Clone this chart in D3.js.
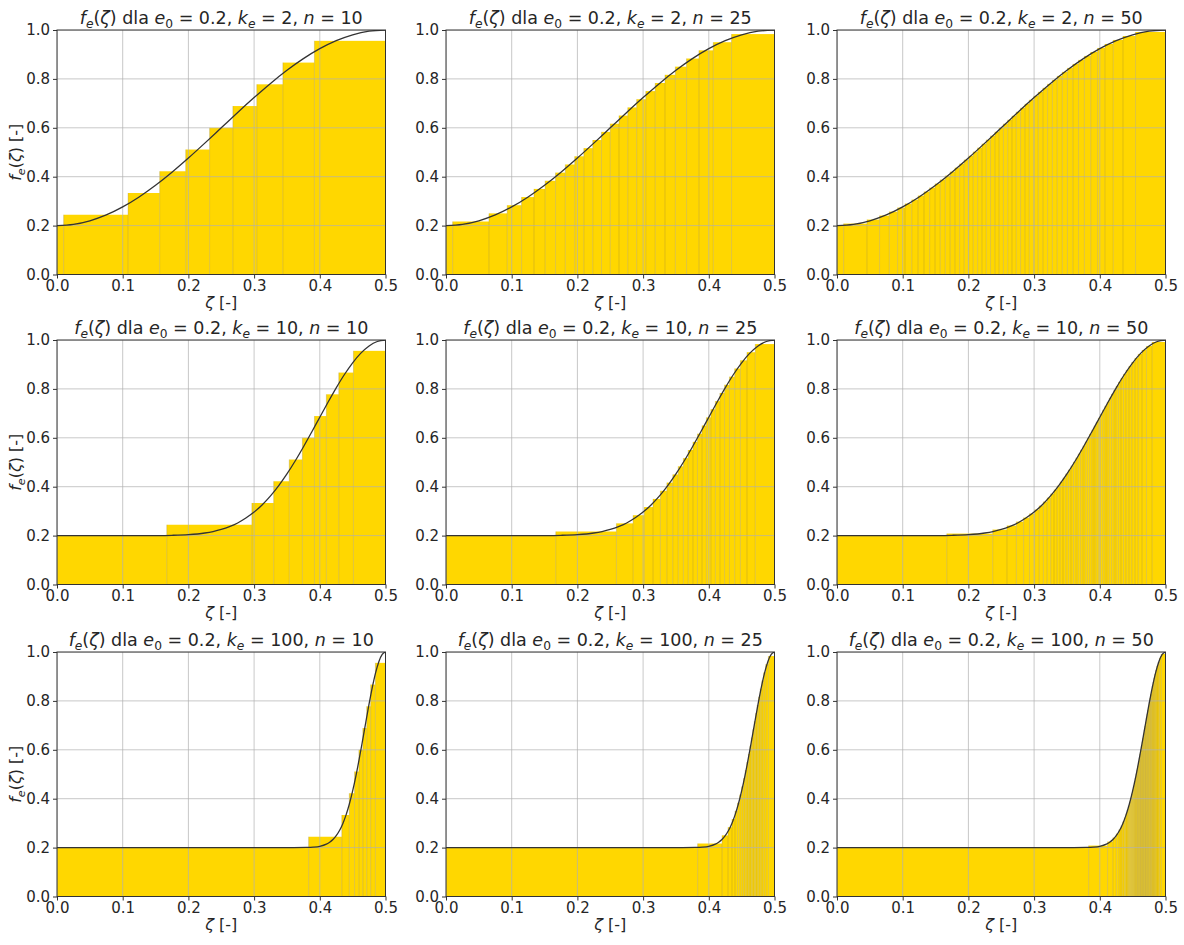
<!DOCTYPE html>
<html>
<head>
<meta charset="utf-8">
<script src="https://cdn.jsdelivr.net/npm/d3@7"></script>
<style>
  body { margin: 0; background: #fff; }
  svg { display: block; }
  text { font-family: "DejaVu Sans", sans-serif; fill: #262626; }
</style>
</head>
<body>
<svg id="chart" width="1184" height="945"></svg>
<script>
// ---- tick labels ----
const zetaTicks = [0, 0.1, 0.2, 0.3, 0.4, 0.5];
const fTicks = [0, 0.2, 0.4, 0.6, 0.8, 1.0];

// ---- parameters shown in the panel titles ----
const e0Label = "0.2";
const kValues = [2, 10, 100];   // rows
const nValues = [10, 25, 50];   // columns

// ---- step heights f_e for each number of segments n ----
const heightsN10 = [0.2, 0.2444, 0.3333, 0.4222, 0.5111, 0.6, 0.6889, 0.7778, 0.8667, 0.9556];
const heightsN25 = [0.2, 0.2167, 0.25, 0.2833, 0.3167, 0.35, 0.3833, 0.4167, 0.45, 0.4833, 0.5167, 0.55,
  0.5833, 0.6167, 0.65, 0.6833, 0.7167, 0.75, 0.7833, 0.8167, 0.85, 0.8833, 0.9167, 0.95, 0.9833];
const heightsN50 = [0.2, 0.2082, 0.2245, 0.2408, 0.2571, 0.2735, 0.2898, 0.3061, 0.3224, 0.3388, 0.3551,
  0.3714, 0.3878, 0.4041, 0.4204, 0.4367, 0.4531, 0.4694, 0.4857, 0.5020, 0.5184, 0.5347, 0.5510, 0.5673,
  0.5837, 0.6000, 0.6163, 0.6327, 0.6490, 0.6653, 0.6816, 0.6980, 0.7143, 0.7306, 0.7469, 0.7633, 0.7796,
  0.7959, 0.8122, 0.8286, 0.8449, 0.8612, 0.8776, 0.8939, 0.9102, 0.9265, 0.9429, 0.9592, 0.9755, 0.9918];

// ---- segment boundaries in zeta, per k_e and n ----
const edgesK2N10 = [0, 0.0101, 0.1082, 0.1563, 0.1959, 0.2323, 0.2677, 0.3041, 0.3438, 0.3918, 0.5];
const edgesK2N25 = [0, 0.0101, 0.0654, 0.0932, 0.1150, 0.1339, 0.1509, 0.1667, 0.1816, 0.1959, 0.2098,
  0.2234, 0.2367, 0.2500, 0.2633, 0.2767, 0.2902, 0.3041, 0.3184, 0.3333, 0.3491, 0.3661, 0.3850, 0.4068,
  0.4346, 0.5];
const edgesK2N50 = [0, 0.0101, 0.0456, 0.0648, 0.0796, 0.0922, 0.1035, 0.1138, 0.1234, 0.1324, 0.1410,
  0.1492, 0.1571, 0.1648, 0.1722, 0.1795, 0.1866, 0.1936, 0.2005, 0.2073, 0.2140, 0.2206, 0.2272, 0.2337,
  0.2403, 0.2468, 0.2533, 0.2598, 0.2663, 0.2728, 0.2794, 0.2860, 0.2927, 0.2995, 0.3064, 0.3134, 0.3205,
  0.3278, 0.3352, 0.3429, 0.3508, 0.3590, 0.3676, 0.3766, 0.3862, 0.3965, 0.4078, 0.4204, 0.4353, 0.4544, 0.5];

const edgesK10N10 = [0, 0.1671, 0.2966, 0.3298, 0.3535, 0.3735, 0.3919, 0.4100, 0.4289, 0.4512, 0.5];
const edgesK10N25 = [0, 0.1671, 0.2594, 0.2848, 0.3018, 0.3151, 0.3263, 0.3362, 0.3452, 0.3535, 0.3613,
  0.3687, 0.3759, 0.3828, 0.3897, 0.3964, 0.4032, 0.4100, 0.4169, 0.4240, 0.4315, 0.4394, 0.4481, 0.4581,
  0.4707, 0.5];
const edgesK10N50 = [0, 0.1671, 0.2370, 0.2587, 0.2730, 0.2840, 0.2930, 0.3008, 0.3078, 0.3141, 0.3199,
  0.3253, 0.3303, 0.3351, 0.3396, 0.3440, 0.3482, 0.3522, 0.3561, 0.3599, 0.3636, 0.3672, 0.3708, 0.3743,
  0.3778, 0.3812, 0.3845, 0.3879, 0.3912, 0.3945, 0.3978, 0.4011, 0.4044, 0.4077, 0.4111, 0.4145, 0.4179,
  0.4214, 0.4249, 0.4285, 0.4322, 0.4361, 0.4401, 0.4443, 0.4487, 0.4534, 0.4585, 0.4643, 0.4710, 0.4796, 0.5];

const edgesK100N10 = [0, 0.3830, 0.4335, 0.4449, 0.4529, 0.4595, 0.4655, 0.4714, 0.4774, 0.4846, 0.5];
const edgesK100N25 = [0, 0.3830, 0.4202, 0.4293, 0.4353, 0.4399, 0.4438, 0.4471, 0.4501, 0.4529, 0.4555,
  0.4579, 0.4603, 0.4626, 0.4648, 0.4670, 0.4692, 0.4714, 0.4736, 0.4759, 0.4783, 0.4808, 0.4836, 0.4867,
  0.4907, 0.5];
const edgesK100N50 = [0, 0.3830, 0.4118, 0.4199, 0.4251, 0.4290, 0.4323, 0.4350, 0.4374, 0.4396, 0.4416,
  0.4434, 0.4451, 0.4467, 0.4483, 0.4497, 0.4511, 0.4525, 0.4538, 0.4550, 0.4563, 0.4575, 0.4586, 0.4598,
  0.4609, 0.4620, 0.4631, 0.4642, 0.4653, 0.4664, 0.4674, 0.4685, 0.4696, 0.4706, 0.4717, 0.4728, 0.4739,
  0.4750, 0.4762, 0.4773, 0.4785, 0.4797, 0.4810, 0.4823, 0.4837, 0.4852, 0.4869, 0.4887, 0.4908, 0.4935, 0.5];

// ---- continuous profile f_e(zeta), sampled points [zeta, f] ----
const curveK2 = [[0, 0.2], [0.025, 0.2049], [0.05, 0.2196], [0.075, 0.2436], [0.1, 0.2764], [0.125, 0.3172],
  [0.15, 0.3649], [0.175, 0.4184], [0.2, 0.4764], [0.225, 0.5374], [0.25, 0.6], [0.275, 0.6626],
  [0.3, 0.7236], [0.325, 0.7816], [0.35, 0.8351], [0.375, 0.8828], [0.4, 0.9236], [0.425, 0.9564],
  [0.45, 0.9804], [0.475, 0.9951], [0.5, 1.0]];
const curveK10 = [[0, 0.2], [0.05, 0.2], [0.1, 0.2000], [0.15, 0.2003], [0.175, 0.2012], [0.2, 0.2039],
  [0.225, 0.2107], [0.2375, 0.2166], [0.25, 0.225], [0.2625, 0.2365], [0.275, 0.2517], [0.2875, 0.2717],
  [0.3, 0.2961], [0.3125, 0.3264], [0.325, 0.3624], [0.3375, 0.4045], [0.35, 0.4523], [0.3625, 0.5052],
  [0.375, 0.5625], [0.3875, 0.6227], [0.4, 0.6843], [0.4125, 0.7456], [0.425, 0.8045], [0.4375, 0.8589],
  [0.45, 0.9068], [0.4625, 0.9462], [0.475, 0.9757], [0.4875, 0.9939], [0.5, 1.0]];
const curveK100 = [[0, 0.2], [0.1, 0.2], [0.2, 0.2], [0.3, 0.2], [0.36, 0.2000], [0.38, 0.2006],
  [0.39, 0.2018], [0.4, 0.2053], [0.41, 0.2139], [0.415, 0.2217], [0.42, 0.2329], [0.425, 0.2486],
  [0.43, 0.2699], [0.435, 0.2980], [0.44, 0.3339], [0.445, 0.3785], [0.45, 0.4318], [0.455, 0.4935],
  [0.46, 0.5625], [0.465, 0.6366], [0.47, 0.7127], [0.475, 0.7875], [0.48, 0.8566], [0.485, 0.9159],
  [0.49, 0.9615], [0.495, 0.9902], [0.5, 1.0]];

// lookup tables assembled from the arrays above
const heightsByN = { 10: heightsN10, 25: heightsN25, 50: heightsN50 };
const edgesByKN = {
  "2-10": edgesK2N10, "2-25": edgesK2N25, "2-50": edgesK2N50,
  "10-10": edgesK10N10, "10-25": edgesK10N25, "10-50": edgesK10N50,
  "100-10": edgesK100N10, "100-25": edgesK100N25, "100-50": edgesK100N50
};
const curveByK = { 2: curveK2, 10: curveK10, 100: curveK100 };

// ---- layout ----
const colLeft = [57, 446, 837];
const rowTop = [30, 340, 652];
const plotW = 328.5;
const plotH = 244.5;
const tickSize = 15;
const labelSize = 16;
const titleSize = 17.5;

const svg = d3.select("#chart");

// writes a run of plain / italic / subscript pieces into a <text>
function mathText(sel, parts, size) {
  const shift = size * 0.22;
  let lowered = false;
  parts.forEach(p => {
    const ts = sel.append("tspan").text(p.t);
    if (p.i) ts.attr("font-style", "italic");
    if (p.sub && !lowered) { ts.attr("dy", shift).attr("font-size", size * 0.7); lowered = true; }
    else if (p.sub) { ts.attr("font-size", size * 0.7); }
    else if (lowered) { ts.attr("dy", -shift); lowered = false; }
  });
}

const fLabel = [{ t: "f", i: true }, { t: "e", i: true, sub: true }, { t: "(" }, { t: "\u03B6", i: true }, { t: ")" }];

kValues.forEach((k, r) => {
  nValues.forEach((n, c) => {
    const x0 = colLeft[c], y0 = rowTop[r];
    const g = svg.append("g").attr("transform", `translate(${x0},${y0})`);
    const x = d3.scaleLinear().domain([0, 0.5]).range([0, plotW]);
    const y = d3.scaleLinear().domain([0, 1]).range([plotH, 0]);

    const clipId = `clip-${r}-${c}`;
    g.append("clipPath").attr("id", clipId)
      .append("rect").attr("width", plotW).attr("height", plotH);
    const plot = g.append("g").attr("clip-path", `url(#${clipId})`);

    // step segments
    const heights = heightsByN[n];
    const edges = edgesByKN[`${k}-${n}`];
    const bars = heights.map((h, i) => ({ a: edges[i], b: edges[i + 1], h }));
    plot.selectAll("rect.bar").data(bars).join("rect")
      .attr("class", "bar")
      .attr("x", d => x(d.a))
      .attr("width", d => Math.max(0, x(d.b) - x(d.a)))
      .attr("y", d => y(d.h))
      .attr("height", d => y(0) - y(d.h))
      .attr("fill", "#FFD700");
    // segment outlines (vertical sides)
    plot.selectAll("line.edge").data(bars.slice(1)).join("line")
      .attr("class", "edge")
      .attr("x1", d => x(d.a)).attr("x2", d => x(d.a))
      .attr("y1", y(0)).attr("y2", d => y(d.h))
      .attr("stroke", "#8a7a3a").attr("stroke-opacity", 0.35).attr("stroke-width", 0.8);

    // grid
    plot.selectAll("line.gx").data(zetaTicks).join("line")
      .attr("x1", d => x(d)).attr("x2", d => x(d)).attr("y1", 0).attr("y2", plotH)
      .attr("stroke", "#b0b0b0").attr("stroke-opacity", 0.7).attr("stroke-width", 1);
    plot.selectAll("line.gy").data(fTicks).join("line")
      .attr("y1", d => y(d)).attr("y2", d => y(d)).attr("x1", 0).attr("x2", plotW)
      .attr("stroke", "#b0b0b0").attr("stroke-opacity", 0.7).attr("stroke-width", 1);

    // profile curve
    const line = d3.line().x(d => x(d[0])).y(d => y(d[1])).curve(d3.curveMonotoneX);
    plot.append("path").datum(curveByK[k]).attr("d", line)
      .attr("fill", "none").attr("stroke", "#333").attr("stroke-width", 1.3);

    // axes
    const xAxis = d3.axisBottom(x).tickValues(zetaTicks).tickFormat(d3.format(".1f")).tickSizeOuter(0).tickSize(4).tickPadding(2);
    const yAxis = d3.axisLeft(y).tickValues(fTicks).tickFormat(d3.format(".1f")).tickSizeOuter(0).tickSize(4).tickPadding(3);
    const gx = g.append("g").attr("transform", `translate(0,${plotH})`).call(xAxis);
    const gy = g.append("g").call(yAxis);
    [gx, gy].forEach(a => {
      a.select(".domain").remove();
      a.selectAll(".tick line").attr("stroke", "#333");
      a.selectAll(".tick text").attr("font-size", tickSize).attr("font-family", "DejaVu Sans").attr("fill", "#262626");
    });

    // frame
    g.append("rect").attr("width", plotW).attr("height", plotH)
      .attr("fill", "none").attr("stroke", "#333").attr("stroke-width", 1);

    // title
    const title = g.append("text").attr("x", plotW / 2).attr("y", -6)
      .attr("text-anchor", "middle").attr("font-size", titleSize);
    mathText(title, fLabel.concat([
      { t: " dla " }, { t: "e", i: true }, { t: "0", sub: true }, { t: " = " + e0Label + ", " },
      { t: "k", i: true }, { t: "e", i: true, sub: true }, { t: " = " + k + ", " },
      { t: "n", i: true }, { t: " = " + n }
    ]), titleSize);

    // x label
    const xl = g.append("text").attr("x", plotW / 2).attr("y", plotH + 33)
      .attr("text-anchor", "middle").attr("font-size", labelSize);
    mathText(xl, [{ t: "\u03B6", i: true }, { t: " [-]" }], labelSize);

    // y label (left column only)
    if (c === 0) {
      const yl = g.append("text")
        .attr("transform", `translate(-36,${plotH / 2}) rotate(-90)`)
        .attr("text-anchor", "middle").attr("font-size", labelSize);
      mathText(yl, fLabel.concat([{ t: " [-]" }]), labelSize);
    }
  });
});
</script>
</body>
</html>
